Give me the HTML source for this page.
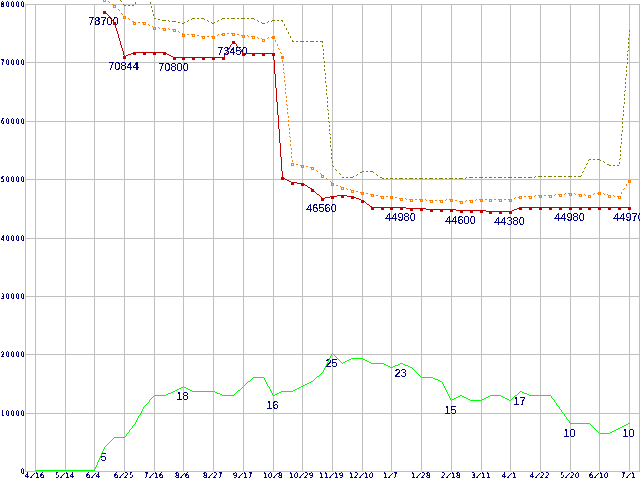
<!DOCTYPE html>
<html><head><meta charset="utf-8"><title>chart</title>
<style>
html,body{margin:0;padding:0;background:#fff;}
body{width:640px;height:480px;overflow:hidden;}
svg{display:block;}
.yl{font-family:"DejaVu Sans Condensed",monospace;font-size:7.5px;font-weight:normal;fill:#000080;}
.xl{font-family:"DejaVu Sans Condensed",sans-serif;font-size:7.5px;font-weight:normal;fill:#000080;}
.sl{font-family:"DejaVu Sans Mono",monospace;font-weight:bold;font-size:7.5px;}
.vl{font-family:"Liberation Sans",sans-serif;font-size:11px;fill:#000080;}
</style></head><body>
<svg width="640" height="480" viewBox="0 0 640 480">
<defs><filter id="th" x="0" y="0" width="100%" height="100%" filterUnits="userSpaceOnUse"><feComponentTransfer><feFuncA type="discrete" tableValues="0 0 1 1 1"/></feComponentTransfer></filter><filter id="ty" x="0" y="0" width="100%" height="100%" filterUnits="userSpaceOnUse"><feComponentTransfer><feFuncA type="discrete" tableValues="0 1 1 1"/></feComponentTransfer></filter><filter id="tx" x="0" y="0" width="100%" height="100%" filterUnits="userSpaceOnUse"><feComponentTransfer><feFuncA type="discrete" tableValues="0 1 1"/></feComponentTransfer></filter></defs>
<rect x="0" y="0" width="640" height="480" fill="#fff"/>
<path d="M25 4.5H640 M25 62.5H640 M25 121.5H640 M25 179.5H640 M25 238.5H640 M25 296.5H640 M25 354.5H640 M25 413.5H640 M25 471.5H640 M35.5 4V472 M65.5 4V472 M94.5 4V472 M124.5 4V472 M154.5 4V472 M183.5 4V472 M213.5 4V472 M243.5 4V472 M273.5 4V472 M302.5 4V472 M332.5 4V472 M362.5 4V472 M391.5 4V472 M421.5 4V472 M451.5 4V472 M481.5 4V472 M510.5 4V472 M540.5 4V472 M570.5 4V472 M599.5 4V472 M629.5 4V472 M25.5 4V472 M639.5 4V472" stroke="#c0c0c0" stroke-width="1" fill="none" shape-rendering="crispEdges"/>
<g filter="url(#ty)">
<text class="yl" transform="scale(0.8,1)" x="1.25 7.5 13.75 20 26.25" y="7">80000</text>
<text class="yl" transform="scale(0.8,1)" x="1.25 7.5 13.75 20 26.25" y="65">70000</text>
<text class="yl" transform="scale(0.8,1)" x="1.25 7.5 13.75 20 26.25" y="124">60000</text>
<text class="yl" transform="scale(0.8,1)" x="1.25 7.5 13.75 20 26.25" y="182">50000</text>
<text class="yl" transform="scale(0.8,1)" x="1.25 7.5 13.75 20 26.25" y="241">40000</text>
<text class="yl" transform="scale(0.8,1)" x="1.25 7.5 13.75 20 26.25" y="299">30000</text>
<text class="yl" transform="scale(0.8,1)" x="1.25 7.5 13.75 20 26.25" y="357">20000</text>
<text class="yl" transform="scale(0.8,1)" x="1.25 7.5 13.75 20 26.25" y="416">10000</text>
<text class="yl" transform="scale(0.8,1)" x="26.25" y="474">0</text>
</g>
<g filter="url(#tx)">
<text class="xl" x="25 30 35 40" y="478 478 478 478">4<tspan class="sl" rotate="15" dy="-1">/</tspan>16</text>
<text class="xl" x="55 60 65 70" y="478 478 478 478">5<tspan class="sl" rotate="15" dy="-1">/</tspan>14</text>
<text class="xl" x="86 91 96" y="478 478 478">6<tspan class="sl" rotate="15" dy="-1">/</tspan>4</text>
<text class="xl" x="114 119 124 129" y="478 478 478 478">6<tspan class="sl" rotate="15" dy="-1">/</tspan>25</text>
<text class="xl" x="144 149 154 159" y="478 478 478 478">7<tspan class="sl" rotate="15" dy="-1">/</tspan>16</text>
<text class="xl" x="175 180 185" y="478 478 478">8<tspan class="sl" rotate="15" dy="-1">/</tspan>6</text>
<text class="xl" x="203 208 213 218" y="478 478 478 478">8<tspan class="sl" rotate="15" dy="-1">/</tspan>27</text>
<text class="xl" x="233 238 243 248" y="478 478 478 478">9<tspan class="sl" rotate="15" dy="-1">/</tspan>17</text>
<text class="xl" x="263 268 273 278" y="478 478 478 478">10<tspan class="sl" rotate="15" dy="-1">/</tspan>8</text>
<text class="xl" x="289 294 299 304 309" y="478 478 478 478 478">10<tspan class="sl" rotate="15" dy="-1">/</tspan>29</text>
<text class="xl" x="319 324 329 334 339" y="478 478 478 478 478">11<tspan class="sl" rotate="15" dy="-1">/</tspan>19</text>
<text class="xl" x="349 354 359 364 369" y="478 478 478 478 478">12<tspan class="sl" rotate="15" dy="-1">/</tspan>10</text>
<text class="xl" x="383 388 393" y="478 478 478">1<tspan class="sl" rotate="15" dy="-1">/</tspan>7</text>
<text class="xl" x="411 416 421 426" y="478 478 478 478">1<tspan class="sl" rotate="15" dy="-1">/</tspan>28</text>
<text class="xl" x="441 446 451 456" y="478 478 478 478">2<tspan class="sl" rotate="15" dy="-1">/</tspan>18</text>
<text class="xl" x="471 476 481 486" y="478 478 478 478">3<tspan class="sl" rotate="15" dy="-1">/</tspan>11</text>
<text class="xl" x="502 507 512" y="478 478 478">4<tspan class="sl" rotate="15" dy="-1">/</tspan>1</text>
<text class="xl" x="530 535 540 545" y="478 478 478 478">4<tspan class="sl" rotate="15" dy="-1">/</tspan>22</text>
<text class="xl" x="560 565 570 575" y="478 478 478 478">5<tspan class="sl" rotate="15" dy="-1">/</tspan>20</text>
<text class="xl" x="589 594 599 604" y="478 478 478 478">6<tspan class="sl" rotate="15" dy="-1">/</tspan>10</text>
<text class="xl" x="621 626 631" y="478 478 478">7<tspan class="sl" rotate="15" dy="-1">/</tspan>1</text>
</g>
<g filter="url(#th)">
<text class="vl" x="103.5" y="25" text-anchor="middle">78700</text>
<text class="vl" x="123.5" y="70" text-anchor="middle">70844</text>
<text class="vl" x="173.5" y="71" text-anchor="middle">70800</text>
<text class="vl" x="232.5" y="55" text-anchor="middle">73450</text>
<text class="vl" x="321.5" y="212" text-anchor="middle">46560</text>
<text class="vl" x="400.5" y="221" text-anchor="middle">44980</text>
<text class="vl" x="460.5" y="224" text-anchor="middle">44600</text>
<text class="vl" x="509.5" y="225" text-anchor="middle">44380</text>
<text class="vl" x="569.5" y="221" text-anchor="middle">44980</text>
<text class="vl" x="628.5" y="221" text-anchor="middle">44970</text>
<text class="vl" x="103.5" y="461" text-anchor="middle">5</text>
<text class="vl" x="182.5" y="400" text-anchor="middle">18</text>
<text class="vl" x="272.5" y="409" text-anchor="middle">16</text>
<text class="vl" x="331.5" y="367" text-anchor="middle">25</text>
<text class="vl" x="400.5" y="377" text-anchor="middle">23</text>
<text class="vl" x="450.5" y="414" text-anchor="middle">15</text>
<text class="vl" x="519.5" y="405" text-anchor="middle">17</text>
<text class="vl" x="569.5" y="437" text-anchor="middle">10</text>
<text class="vl" x="628.5" y="437" text-anchor="middle">10</text>
</g>
<path d="M120 0h1v1h-1zM121 1h1v1h-1zM135 2h1v1h-1zM150 2h1v1h-1zM135 3h1v1h-1zM150 3h1v1h-1zM123 4h1v1h-1zM124 5h2v1h-2zM128 5h2v1h-2zM132 5h2v1h-2zM151 6h1v1h-1zM151 7h1v1h-1zM152 10h1v1h-1zM152 11h1v1h-1zM153 14h1v1h-1zM153 15h1v1h-1zM154 18h2v1h-2zM192 18h3v1h-3zM197 18h2v1h-2zM201 18h3v1h-3zM222 18h3v1h-3zM227 18h2v1h-2zM231 18h4v1h-4zM237 18h2v1h-2zM241 18h4v1h-4zM247 18h2v1h-2zM251 18h3v1h-3zM158 19h2v1h-2zM191 19h1v1h-1zM204 19h1v1h-1zM221 19h1v1h-1zM254 19h1v1h-1zM162 20h4v1h-4zM168 20h1v1h-1zM188 20h1v1h-1zM207 20h1v1h-1zM218 20h1v1h-1zM257 20h1v1h-1zM272 20h3v1h-3zM277 20h2v1h-2zM281 20h2v1h-2zM169 21h1v1h-1zM172 21h4v1h-4zM187 21h1v1h-1zM208 21h1v1h-1zM217 21h1v1h-1zM258 21h1v1h-1zM268 21h1v1h-1zM271 21h1v1h-1zM282 21h1v1h-1zM178 22h2v1h-2zM184 22h1v1h-1zM211 22h1v1h-1zM214 22h1v1h-1zM261 22h1v1h-1zM267 22h1v1h-1zM182 23h2v1h-2zM212 23h2v1h-2zM262 23h3v1h-3zM284 24h1v1h-1zM284 25h1v1h-1zM286 28h1v1h-1zM286 29h1v1h-1zM629 30h1v1h-1zM629 31h1v1h-1zM288 32h1v1h-1zM288 33h1v1h-1zM629 34h1v1h-1zM629 35h1v1h-1zM290 36h1v1h-1zM290 37h1v1h-1zM628 38h1v1h-1zM628 39h1v1h-1zM292 40h1v1h-1zM292 41h2v1h-2zM296 41h2v1h-2zM300 41h4v1h-4zM306 41h2v1h-2zM310 41h4v1h-4zM316 41h2v1h-2zM320 41h3v1h-3zM322 42h1v1h-1zM628 42h1v1h-1zM628 43h1v1h-1zM322 45h1v1h-1zM322 46h1v1h-1zM628 46h1v1h-1zM628 47h1v1h-1zM323 49h1v1h-1zM323 50h1v1h-1zM628 50h1v1h-1zM627 51h1v1h-1zM323 53h1v1h-1zM323 54h1v1h-1zM627 54h1v1h-1zM627 55h1v1h-1zM323 57h1v1h-1zM323 58h1v1h-1zM627 58h1v1h-1zM627 59h1v1h-1zM324 61h1v1h-1zM324 62h1v1h-1zM627 62h1v1h-1zM627 63h1v1h-1zM324 65h1v1h-1zM324 66h1v1h-1zM626 66h1v1h-1zM626 67h1v1h-1zM324 69h1v1h-1zM324 70h1v1h-1zM626 70h1v1h-1zM626 71h1v1h-1zM325 73h1v1h-1zM325 74h1v1h-1zM626 74h1v1h-1zM626 75h1v1h-1zM325 77h1v1h-1zM325 78h1v1h-1zM625 78h1v1h-1zM625 79h1v1h-1zM325 81h1v1h-1zM325 82h1v1h-1zM625 82h1v1h-1zM625 83h1v1h-1zM326 85h1v1h-1zM326 86h1v1h-1zM625 86h1v1h-1zM625 87h1v1h-1zM326 89h1v1h-1zM326 90h1v1h-1zM625 90h1v1h-1zM624 91h1v1h-1zM326 93h1v1h-1zM326 94h1v1h-1zM624 94h1v1h-1zM624 95h1v1h-1zM327 97h1v1h-1zM327 98h1v1h-1zM624 98h1v1h-1zM624 99h1v1h-1zM327 101h1v1h-1zM327 102h1v1h-1zM624 102h1v1h-1zM624 103h1v1h-1zM327 105h1v1h-1zM327 106h1v1h-1zM623 106h1v1h-1zM623 107h1v1h-1zM327 109h1v1h-1zM328 110h1v1h-1zM623 110h1v1h-1zM623 111h1v1h-1zM328 113h1v1h-1zM328 114h1v1h-1zM623 114h1v1h-1zM623 115h1v1h-1zM328 117h1v1h-1zM328 118h1v1h-1zM622 118h1v1h-1zM622 119h1v1h-1zM328 121h1v1h-1zM329 122h1v1h-1zM622 122h1v1h-1zM622 123h1v1h-1zM329 125h1v1h-1zM329 126h1v1h-1zM622 126h1v1h-1zM622 127h1v1h-1zM329 129h1v1h-1zM329 130h1v1h-1zM622 130h1v1h-1zM622 131h1v1h-1zM329 133h1v1h-1zM330 134h1v1h-1zM621 134h1v1h-1zM621 135h1v1h-1zM330 137h1v1h-1zM330 138h1v1h-1zM621 138h1v1h-1zM621 139h1v1h-1zM330 141h1v1h-1zM330 142h1v1h-1zM621 142h1v1h-1zM621 143h1v1h-1zM330 145h1v1h-1zM330 146h1v1h-1zM620 146h1v1h-1zM620 147h1v1h-1zM331 149h1v1h-1zM331 150h1v1h-1zM620 150h1v1h-1zM620 151h1v1h-1zM331 153h1v1h-1zM331 154h1v1h-1zM620 154h1v1h-1zM620 155h1v1h-1zM331 157h1v1h-1zM331 158h1v1h-1zM620 158h1v1h-1zM589 159h2v1h-2zM593 159h2v1h-2zM597 159h3v1h-3zM619 159h1v1h-1zM588 160h1v1h-1zM600 160h1v1h-1zM332 161h1v1h-1zM603 161h1v1h-1zM332 162h1v1h-1zM604 162h1v1h-1zM619 162h1v1h-1zM587 163h1v1h-1zM619 163h1v1h-1zM586 164h1v1h-1zM607 164h2v1h-2zM332 165h1v1h-1zM609 165h2v1h-2zM613 165h2v1h-2zM617 165h2v1h-2zM333 166h1v1h-1zM585 167h1v1h-1zM584 168h1v1h-1zM335 169h1v1h-1zM336 170h1v1h-1zM362 171h2v1h-2zM366 171h2v1h-2zM370 171h3v1h-3zM583 171h1v1h-1zM360 172h2v1h-2zM373 172h1v1h-1zM582 172h1v1h-1zM339 173h1v1h-1zM340 174h1v1h-1zM357 174h1v1h-1zM376 174h1v1h-1zM356 175h1v1h-1zM377 175h1v1h-1zM581 175h1v1h-1zM353 176h1v1h-1zM535 176h1v1h-1zM538 176h4v1h-4zM544 176h2v1h-2zM548 176h4v1h-4zM554 176h2v1h-2zM558 176h4v1h-4zM564 176h2v1h-2zM568 176h4v1h-4zM574 176h2v1h-2zM578 176h3v1h-3zM342 177h2v1h-2zM346 177h2v1h-2zM350 177h3v1h-3zM380 177h2v1h-2zM466 177h1v1h-1zM469 177h4v1h-4zM475 177h2v1h-2zM479 177h4v1h-4zM485 177h2v1h-2zM489 177h3v1h-3zM494 177h2v1h-2zM498 177h4v1h-4zM504 177h2v1h-2zM508 177h4v1h-4zM514 177h2v1h-2zM518 177h4v1h-4zM524 177h2v1h-2zM528 177h4v1h-4zM534 177h1v1h-1zM382 178h2v1h-2zM386 178h2v1h-2zM390 178h3v1h-3zM395 178h2v1h-2zM399 178h4v1h-4zM405 178h2v1h-2zM409 178h4v1h-4zM415 178h2v1h-2zM419 178h4v1h-4zM425 178h2v1h-2zM429 178h4v1h-4zM435 178h2v1h-2zM439 178h4v1h-4zM445 178h2v1h-2zM449 178h4v1h-4zM455 178h2v1h-2zM459 178h4v1h-4zM465 178h1v1h-1z" fill="#808000" shape-rendering="crispEdges"/>
<path d="M105 0h1v1h-1zM108 1h1v1h-1zM109 2h1v1h-1zM112 4h2v1h-2zM114 5h1v1h-1zM115 6h1v1h-1zM118 9h1v1h-1zM119 10h1v1h-1zM121 13h1v1h-1zM122 14h1v1h-1zM124 16h1v1h-1zM125 17h1v1h-1zM128 18h1v1h-1zM129 19h1v1h-1zM132 21h2v1h-2zM134 22h2v1h-2zM138 22h2v1h-2zM142 22h3v1h-3zM145 23h1v1h-1zM148 24h1v1h-1zM149 25h1v1h-1zM152 26h1v1h-1zM153 27h3v1h-3zM158 27h1v1h-1zM159 28h1v1h-1zM162 28h4v1h-4zM168 28h1v1h-1zM169 29h1v1h-1zM172 29h3v1h-3zM175 30h1v1h-1zM178 31h1v1h-1zM179 32h1v1h-1zM182 33h1v1h-1zM222 33h3v1h-3zM227 33h2v1h-2zM231 33h4v1h-4zM183 34h2v1h-2zM187 34h2v1h-2zM191 34h4v1h-4zM218 34h1v1h-1zM221 34h1v1h-1zM237 34h2v1h-2zM197 35h2v1h-2zM217 35h1v1h-1zM241 35h4v1h-4zM247 35h1v1h-1zM201 36h4v1h-4zM207 36h2v1h-2zM211 36h4v1h-4zM248 36h1v1h-1zM251 36h4v1h-4zM272 36h2v1h-2zM257 37h1v1h-1zM268 37h1v1h-1zM271 37h1v1h-1zM273 37h1v1h-1zM258 38h1v1h-1zM261 38h1v1h-1zM267 38h1v1h-1zM262 39h3v1h-3zM275 40h1v1h-1zM275 41h1v1h-1zM277 44h1v1h-1zM277 45h1v1h-1zM278 48h1v1h-1zM279 49h1v1h-1zM280 52h1v1h-1zM281 53h1v1h-1zM282 56h1v1h-1zM282 57h1v1h-1zM282 60h1v1h-1zM282 61h1v1h-1zM283 64h1v1h-1zM283 65h1v1h-1zM283 68h1v1h-1zM283 69h1v1h-1zM283 72h1v1h-1zM284 73h1v1h-1zM284 76h1v1h-1zM284 77h1v1h-1zM284 80h1v1h-1zM284 81h1v1h-1zM285 84h1v1h-1zM285 85h1v1h-1zM285 88h1v1h-1zM285 89h1v1h-1zM285 92h1v1h-1zM285 93h1v1h-1zM286 96h1v1h-1zM286 97h1v1h-1zM286 100h1v1h-1zM286 101h1v1h-1zM286 104h1v1h-1zM287 105h1v1h-1zM287 108h1v1h-1zM287 109h1v1h-1zM287 112h1v1h-1zM287 113h1v1h-1zM288 116h1v1h-1zM288 117h1v1h-1zM288 120h1v1h-1zM288 121h1v1h-1zM288 124h1v1h-1zM288 125h1v1h-1zM289 128h1v1h-1zM289 129h1v1h-1zM289 132h1v1h-1zM289 133h1v1h-1zM289 136h1v1h-1zM290 137h1v1h-1zM290 140h1v1h-1zM290 141h1v1h-1zM290 144h1v1h-1zM290 145h1v1h-1zM291 148h1v1h-1zM291 149h1v1h-1zM291 152h1v1h-1zM291 153h1v1h-1zM291 156h1v1h-1zM291 157h1v1h-1zM292 160h1v1h-1zM292 161h1v1h-1zM292 163h2v1h-2zM296 164h2v1h-2zM300 165h4v1h-4zM306 166h2v1h-2zM310 167h3v1h-3zM313 168h1v1h-1zM316 170h1v1h-1zM317 171h1v1h-1zM320 173h1v1h-1zM321 174h1v1h-1zM322 175h1v1h-1zM323 176h1v1h-1zM326 178h1v1h-1zM327 179h1v1h-1zM629 180h1v1h-1zM330 181h1v1h-1zM628 181h1v1h-1zM331 182h1v1h-1zM332 183h2v1h-2zM626 184h1v1h-1zM336 185h2v1h-2zM626 185h1v1h-1zM340 186h1v1h-1zM341 187h3v1h-3zM346 188h1v1h-1zM624 188h1v1h-1zM347 189h1v1h-1zM350 189h1v1h-1zM623 189h1v1h-1zM351 190h3v1h-3zM356 191h2v1h-2zM360 192h4v1h-4zM598 192h3v1h-3zM621 192h1v1h-1zM366 193h2v1h-2zM565 193h1v1h-1zM568 193h4v1h-4zM574 193h1v1h-1zM594 193h1v1h-1zM597 193h1v1h-1zM603 193h1v1h-1zM621 193h1v1h-1zM370 194h4v1h-4zM555 194h1v1h-1zM558 194h4v1h-4zM564 194h1v1h-1zM575 194h1v1h-1zM578 194h4v1h-4zM584 194h1v1h-1zM593 194h1v1h-1zM604 194h1v1h-1zM607 194h1v1h-1zM376 195h2v1h-2zM535 195h1v1h-1zM538 195h4v1h-4zM544 195h2v1h-2zM548 195h4v1h-4zM554 195h1v1h-1zM585 195h1v1h-1zM588 195h3v1h-3zM608 195h3v1h-3zM613 195h1v1h-1zM380 196h4v1h-4zM386 196h2v1h-2zM390 196h3v1h-3zM519 196h3v1h-3zM524 196h2v1h-2zM528 196h4v1h-4zM534 196h1v1h-1zM614 196h1v1h-1zM617 196h3v1h-3zM395 197h2v1h-2zM515 197h1v1h-1zM518 197h1v1h-1zM399 198h4v1h-4zM405 198h1v1h-1zM514 198h1v1h-1zM406 199h1v1h-1zM409 199h4v1h-4zM415 199h2v1h-2zM419 199h4v1h-4zM425 199h1v1h-1zM446 199h1v1h-1zM449 199h4v1h-4zM476 199h1v1h-1zM479 199h4v1h-4zM485 199h2v1h-2zM489 199h3v1h-3zM494 199h2v1h-2zM498 199h4v1h-4zM504 199h2v1h-2zM508 199h4v1h-4zM426 200h1v1h-1zM429 200h4v1h-4zM435 200h2v1h-2zM439 200h4v1h-4zM445 200h1v1h-1zM455 200h2v1h-2zM466 200h1v1h-1zM469 200h4v1h-4zM475 200h1v1h-1zM459 201h4v1h-4zM465 201h1v1h-1z" fill="#ff8000" shape-rendering="crispEdges"/>
<path d="M332 353h1v1h-1zM331 354h1v1h-1zM333 354h1v1h-1zM331 355h1v1h-1zM334 355h1v1h-1zM330 356h1v1h-1zM335 356h1v1h-1zM330 357h1v1h-1zM336 357h1v1h-1zM329 358h1v1h-1zM337 358h1v1h-1zM351 358h12v1h-12zM329 359h1v1h-1zM338 359h1v1h-1zM349 359h2v1h-2zM363 359h2v1h-2zM328 360h1v1h-1zM339 360h1v1h-1zM347 360h2v1h-2zM365 360h2v1h-2zM328 361h1v1h-1zM340 361h1v1h-1zM345 361h2v1h-2zM367 361h2v1h-2zM327 362h1v1h-1zM341 362h1v1h-1zM343 362h2v1h-2zM369 362h2v1h-2zM327 363h1v1h-1zM342 363h1v1h-1zM371 363h13v1h-13zM400 363h3v1h-3zM326 364h1v1h-1zM384 364h2v1h-2zM398 364h2v1h-2zM403 364h2v1h-2zM326 365h1v1h-1zM386 365h2v1h-2zM395 365h3v1h-3zM405 365h3v1h-3zM325 366h1v1h-1zM388 366h2v1h-2zM393 366h2v1h-2zM408 366h2v1h-2zM325 367h1v1h-1zM390 367h3v1h-3zM410 367h2v1h-2zM324 368h1v1h-1zM412 368h1v1h-1zM324 369h1v1h-1zM413 369h1v1h-1zM323 370h1v1h-1zM414 370h1v1h-1zM323 371h1v1h-1zM415 371h1v1h-1zM322 372h1v1h-1zM416 372h1v1h-1zM321 373h1v1h-1zM417 373h1v1h-1zM320 374h1v1h-1zM418 374h1v1h-1zM319 375h1v1h-1zM419 375h1v1h-1zM317 376h2v1h-2zM420 376h1v1h-1zM253 377h11v1h-11zM316 377h1v1h-1zM421 377h12v1h-12zM252 378h1v1h-1zM264 378h1v1h-1zM315 378h1v1h-1zM433 378h2v1h-2zM251 379h1v1h-1zM264 379h1v1h-1zM314 379h1v1h-1zM435 379h3v1h-3zM250 380h1v1h-1zM265 380h1v1h-1zM313 380h1v1h-1zM438 380h2v1h-2zM248 381h2v1h-2zM265 381h1v1h-1zM311 381h2v1h-2zM440 381h2v1h-2zM247 382h1v1h-1zM266 382h1v1h-1zM309 382h2v1h-2zM442 382h1v1h-1zM246 383h1v1h-1zM266 383h1v1h-1zM307 383h2v1h-2zM442 383h1v1h-1zM245 384h1v1h-1zM267 384h1v1h-1zM305 384h2v1h-2zM443 384h1v1h-1zM244 385h1v1h-1zM267 385h1v1h-1zM303 385h2v1h-2zM443 385h1v1h-1zM183 386h1v1h-1zM243 386h1v1h-1zM268 386h1v1h-1zM301 386h2v1h-2zM444 386h1v1h-1zM181 387h2v1h-2zM184 387h2v1h-2zM242 387h1v1h-1zM269 387h1v1h-1zM299 387h2v1h-2zM444 387h1v1h-1zM179 388h2v1h-2zM186 388h2v1h-2zM241 388h1v1h-1zM269 388h1v1h-1zM297 388h2v1h-2zM445 388h1v1h-1zM177 389h2v1h-2zM188 389h2v1h-2zM240 389h1v1h-1zM270 389h1v1h-1zM295 389h2v1h-2zM445 389h1v1h-1zM175 390h2v1h-2zM190 390h2v1h-2zM238 390h2v1h-2zM270 390h1v1h-1zM293 390h2v1h-2zM446 390h1v1h-1zM173 391h2v1h-2zM192 391h23v1h-23zM237 391h1v1h-1zM271 391h1v1h-1zM281 391h12v1h-12zM446 391h1v1h-1zM520 391h2v1h-2zM171 392h2v1h-2zM215 392h2v1h-2zM236 392h1v1h-1zM271 392h1v1h-1zM279 392h2v1h-2zM447 392h1v1h-1zM519 392h1v1h-1zM522 392h2v1h-2zM168 393h3v1h-3zM217 393h3v1h-3zM235 393h1v1h-1zM272 393h1v1h-1zM277 393h2v1h-2zM447 393h1v1h-1zM518 393h1v1h-1zM524 393h3v1h-3zM166 394h2v1h-2zM220 394h2v1h-2zM234 394h1v1h-1zM272 394h1v1h-1zM275 394h2v1h-2zM448 394h1v1h-1zM517 394h1v1h-1zM527 394h2v1h-2zM154 395h12v1h-12zM222 395h12v1h-12zM273 395h2v1h-2zM448 395h1v1h-1zM460 395h2v1h-2zM490 395h11v1h-11zM515 395h2v1h-2zM529 395h22v1h-22zM153 396h1v1h-1zM449 396h1v1h-1zM458 396h2v1h-2zM462 396h2v1h-2zM488 396h2v1h-2zM501 396h2v1h-2zM514 396h1v1h-1zM551 396h1v1h-1zM152 397h1v1h-1zM449 397h1v1h-1zM456 397h2v1h-2zM464 397h2v1h-2zM486 397h2v1h-2zM503 397h2v1h-2zM513 397h1v1h-1zM551 397h1v1h-1zM151 398h1v1h-1zM450 398h1v1h-1zM454 398h2v1h-2zM466 398h2v1h-2zM484 398h2v1h-2zM505 398h2v1h-2zM512 398h1v1h-1zM552 398h1v1h-1zM150 399h1v1h-1zM450 399h1v1h-1zM452 399h2v1h-2zM468 399h2v1h-2zM482 399h2v1h-2zM507 399h2v1h-2zM511 399h1v1h-1zM553 399h1v1h-1zM149 400h1v1h-1zM451 400h1v1h-1zM470 400h12v1h-12zM509 400h2v1h-2zM554 400h1v1h-1zM149 401h1v1h-1zM554 401h1v1h-1zM148 402h1v1h-1zM555 402h1v1h-1zM147 403h1v1h-1zM556 403h1v1h-1zM146 404h1v1h-1zM556 404h1v1h-1zM145 405h1v1h-1zM557 405h1v1h-1zM144 406h1v1h-1zM558 406h1v1h-1zM143 407h1v1h-1zM559 407h1v1h-1zM143 408h1v1h-1zM559 408h1v1h-1zM142 409h1v1h-1zM560 409h1v1h-1zM142 410h1v1h-1zM561 410h1v1h-1zM141 411h1v1h-1zM561 411h1v1h-1zM141 412h1v1h-1zM562 412h1v1h-1zM140 413h1v1h-1zM563 413h1v1h-1zM140 414h1v1h-1zM564 414h1v1h-1zM139 415h1v1h-1zM564 415h1v1h-1zM138 416h1v1h-1zM565 416h1v1h-1zM138 417h1v1h-1zM566 417h1v1h-1zM137 418h1v1h-1zM566 418h1v1h-1zM137 419h1v1h-1zM567 419h1v1h-1zM136 420h1v1h-1zM568 420h1v1h-1zM136 421h1v1h-1zM569 421h1v1h-1zM135 422h1v1h-1zM569 422h1v1h-1zM135 423h1v1h-1zM570 423h20v1h-20zM628 423h2v1h-2zM134 424h1v1h-1zM590 424h1v1h-1zM626 424h2v1h-2zM133 425h1v1h-1zM591 425h1v1h-1zM624 425h2v1h-2zM132 426h1v1h-1zM592 426h1v1h-1zM622 426h2v1h-2zM132 427h1v1h-1zM593 427h1v1h-1zM620 427h2v1h-2zM131 428h1v1h-1zM594 428h1v1h-1zM618 428h2v1h-2zM130 429h1v1h-1zM595 429h1v1h-1zM616 429h2v1h-2zM129 430h1v1h-1zM596 430h1v1h-1zM614 430h2v1h-2zM129 431h1v1h-1zM597 431h1v1h-1zM612 431h2v1h-2zM128 432h1v1h-1zM598 432h1v1h-1zM610 432h2v1h-2zM127 433h1v1h-1zM599 433h11v1h-11zM126 434h1v1h-1zM126 435h1v1h-1zM125 436h1v1h-1zM114 437h11v1h-11zM113 438h1v1h-1zM112 439h1v1h-1zM111 440h1v1h-1zM110 441h1v1h-1zM109 442h1v1h-1zM108 443h1v1h-1zM107 444h1v1h-1zM106 445h1v1h-1zM105 446h1v1h-1zM104 447h1v1h-1zM104 448h1v1h-1zM103 449h1v1h-1zM103 450h1v1h-1zM102 451h1v1h-1zM102 452h1v1h-1zM101 453h1v1h-1zM101 454h1v1h-1zM101 455h1v1h-1zM100 456h1v1h-1zM100 457h1v1h-1zM99 458h1v1h-1zM99 459h1v1h-1zM98 460h1v1h-1zM98 461h1v1h-1zM97 462h1v1h-1zM97 463h1v1h-1zM97 464h1v1h-1zM96 465h1v1h-1zM96 466h1v1h-1zM95 467h1v1h-1zM95 468h1v1h-1zM94 469h1v1h-1zM35 470h60v1h-60z" fill="#00ff00" shape-rendering="crispEdges"/>
<path d="M103.5 -0.5h2v2h-2zM113.5 5.5h2v2h-2zM123.5 16.5h2v2h-2zM133.5 22.5h2v2h-2zM143.5 22.5h2v2h-2zM153.5 27.5h2v2h-2zM163.5 28.5h2v2h-2zM173.5 29.5h2v2h-2zM182.5 34.5h2v2h-2zM192.5 34.5h2v2h-2zM202.5 36.5h2v2h-2zM212.5 36.5h2v2h-2zM222.5 33.5h2v2h-2zM232.5 33.5h2v2h-2zM242.5 35.5h2v2h-2zM252.5 36.5h2v2h-2zM262.5 39.5h2v2h-2zM272.5 36.5h2v2h-2zM281.5 56.5h2v2h-2zM291.5 163.5h2v2h-2zM301.5 165.5h2v2h-2zM311.5 167.5h2v2h-2zM321.5 175.5h2v2h-2zM331.5 183.5h2v2h-2zM341.5 187.5h2v2h-2zM351.5 190.5h2v2h-2zM361.5 192.5h2v2h-2zM371.5 194.5h2v2h-2zM381.5 196.5h2v2h-2zM390.5 196.5h2v2h-2zM400.5 198.5h2v2h-2zM410.5 199.5h2v2h-2zM420.5 199.5h2v2h-2zM430.5 200.5h2v2h-2zM440.5 200.5h2v2h-2zM450.5 199.5h2v2h-2zM460.5 201.5h2v2h-2zM470.5 200.5h2v2h-2zM480.5 199.5h2v2h-2zM489.5 199.5h2v2h-2zM499.5 199.5h2v2h-2zM509.5 199.5h2v2h-2zM519.5 196.5h2v2h-2zM529.5 196.5h2v2h-2zM539.5 195.5h2v2h-2zM549.5 195.5h2v2h-2zM559.5 194.5h2v2h-2zM569.5 193.5h2v2h-2zM579.5 194.5h2v2h-2zM588.5 195.5h2v2h-2zM598.5 192.5h2v2h-2zM608.5 195.5h2v2h-2zM618.5 196.5h2v2h-2zM628.5 180.5h2v2h-2z" fill="none" stroke="#ff8000" stroke-width="1" shape-rendering="crispEdges"/>
<path d="M104 11h1v1h-1zM105 12h1v1h-1zM106 13h1v1h-1zM107 14h1v1h-1zM108 15h1v1h-1zM109 16h1v1h-1zM109 17h1v1h-1zM110 18h1v1h-1zM111 19h1v1h-1zM112 20h1v1h-1zM113 21h1v1h-1zM114 22h1v1h-1zM114 23h1v1h-1zM115 24h1v1h-1zM115 25h1v1h-1zM115 26h1v1h-1zM115 27h1v1h-1zM116 28h1v1h-1zM116 29h1v1h-1zM116 30h1v1h-1zM117 31h1v1h-1zM117 32h1v1h-1zM117 33h1v1h-1zM118 34h1v1h-1zM118 35h1v1h-1zM118 36h1v1h-1zM118 37h1v1h-1zM119 38h1v1h-1zM119 39h1v1h-1zM119 40h1v1h-1zM120 41h1v1h-1zM233 41h1v1h-1zM120 42h1v1h-1zM232 42h1v1h-1zM234 42h1v1h-1zM120 43h1v1h-1zM232 43h1v1h-1zM235 43h1v1h-1zM120 44h1v1h-1zM231 44h1v1h-1zM236 44h1v1h-1zM121 45h1v1h-1zM230 45h1v1h-1zM236 45h1v1h-1zM121 46h1v1h-1zM230 46h1v1h-1zM237 46h1v1h-1zM121 47h1v1h-1zM229 47h1v1h-1zM238 47h1v1h-1zM122 48h1v1h-1zM229 48h1v1h-1zM239 48h1v1h-1zM122 49h1v1h-1zM228 49h1v1h-1zM240 49h1v1h-1zM122 50h1v1h-1zM227 50h1v1h-1zM241 50h1v1h-1zM123 51h1v1h-1zM227 51h1v1h-1zM241 51h1v1h-1zM123 52h1v1h-1zM133 52h32v1h-32zM226 52h1v1h-1zM242 52h1v1h-1zM123 53h1v1h-1zM131 53h2v1h-2zM165 53h2v1h-2zM225 53h1v1h-1zM243 53h31v1h-31zM123 54h1v1h-1zM128 54h3v1h-3zM167 54h2v1h-2zM225 54h1v1h-1zM273 54h1v1h-1zM124 55h1v1h-1zM126 55h2v1h-2zM169 55h2v1h-2zM224 55h1v1h-1zM273 55h1v1h-1zM124 56h2v1h-2zM171 56h2v1h-2zM224 56h1v1h-1zM273 56h1v1h-1zM173 57h51v1h-51zM273 57h1v1h-1zM273 58h1v1h-1zM273 59h1v1h-1zM274 60h1v1h-1zM274 61h1v1h-1zM274 62h1v1h-1zM274 63h1v1h-1zM274 64h1v1h-1zM274 65h1v1h-1zM274 66h1v1h-1zM274 67h1v1h-1zM274 68h1v1h-1zM274 69h1v1h-1zM274 70h1v1h-1zM274 71h1v1h-1zM274 72h1v1h-1zM274 73h1v1h-1zM275 74h1v1h-1zM275 75h1v1h-1zM275 76h1v1h-1zM275 77h1v1h-1zM275 78h1v1h-1zM275 79h1v1h-1zM275 80h1v1h-1zM275 81h1v1h-1zM275 82h1v1h-1zM275 83h1v1h-1zM275 84h1v1h-1zM275 85h1v1h-1zM275 86h1v1h-1zM275 87h1v1h-1zM276 88h1v1h-1zM276 89h1v1h-1zM276 90h1v1h-1zM276 91h1v1h-1zM276 92h1v1h-1zM276 93h1v1h-1zM276 94h1v1h-1zM276 95h1v1h-1zM276 96h1v1h-1zM276 97h1v1h-1zM276 98h1v1h-1zM276 99h1v1h-1zM276 100h1v1h-1zM276 101h1v1h-1zM277 102h1v1h-1zM277 103h1v1h-1zM277 104h1v1h-1zM277 105h1v1h-1zM277 106h1v1h-1zM277 107h1v1h-1zM277 108h1v1h-1zM277 109h1v1h-1zM277 110h1v1h-1zM277 111h1v1h-1zM277 112h1v1h-1zM277 113h1v1h-1zM277 114h1v1h-1zM278 115h1v1h-1zM278 116h1v1h-1zM278 117h1v1h-1zM278 118h1v1h-1zM278 119h1v1h-1zM278 120h1v1h-1zM278 121h1v1h-1zM278 122h1v1h-1zM278 123h1v1h-1zM278 124h1v1h-1zM278 125h1v1h-1zM278 126h1v1h-1zM278 127h1v1h-1zM278 128h1v1h-1zM279 129h1v1h-1zM279 130h1v1h-1zM279 131h1v1h-1zM279 132h1v1h-1zM279 133h1v1h-1zM279 134h1v1h-1zM279 135h1v1h-1zM279 136h1v1h-1zM279 137h1v1h-1zM279 138h1v1h-1zM279 139h1v1h-1zM279 140h1v1h-1zM279 141h1v1h-1zM279 142h1v1h-1zM280 143h1v1h-1zM280 144h1v1h-1zM280 145h1v1h-1zM280 146h1v1h-1zM280 147h1v1h-1zM280 148h1v1h-1zM280 149h1v1h-1zM280 150h1v1h-1zM280 151h1v1h-1zM280 152h1v1h-1zM280 153h1v1h-1zM280 154h1v1h-1zM280 155h1v1h-1zM280 156h1v1h-1zM281 157h1v1h-1zM281 158h1v1h-1zM281 159h1v1h-1zM281 160h1v1h-1zM281 161h1v1h-1zM281 162h1v1h-1zM281 163h1v1h-1zM281 164h1v1h-1zM281 165h1v1h-1zM281 166h1v1h-1zM281 167h1v1h-1zM281 168h1v1h-1zM281 169h1v1h-1zM281 170h1v1h-1zM282 171h1v1h-1zM282 172h1v1h-1zM282 173h1v1h-1zM282 174h1v1h-1zM282 175h1v1h-1zM282 176h1v1h-1zM282 177h1v1h-1zM283 178h2v1h-2zM285 179h2v1h-2zM287 180h2v1h-2zM289 181h2v1h-2zM291 182h6v1h-6zM297 183h6v1h-6zM303 184h2v1h-2zM305 185h2v1h-2zM307 186h1v1h-1zM308 187h2v1h-2zM310 188h2v1h-2zM312 189h1v1h-1zM313 190h1v1h-1zM314 191h1v1h-1zM315 192h1v1h-1zM316 193h1v1h-1zM317 194h2v1h-2zM319 195h1v1h-1zM337 195h10v1h-10zM320 196h1v1h-1zM330 196h7v1h-7zM347 196h7v1h-7zM321 197h1v1h-1zM325 197h5v1h-5zM354 197h2v1h-2zM322 198h3v1h-3zM356 198h3v1h-3zM359 199h2v1h-2zM361 200h2v1h-2zM363 201h2v1h-2zM365 202h1v1h-1zM366 203h1v1h-1zM367 204h2v1h-2zM369 205h1v1h-1zM370 206h2v1h-2zM372 207h34v1h-34zM519 207h111v1h-111zM406 208h20v1h-20zM517 208h2v1h-2zM426 209h30v1h-30zM514 209h3v1h-3zM456 210h30v1h-30zM512 210h2v1h-2zM486 211h26v1h-26z" fill="#c00000" shape-rendering="crispEdges"/>
<path d="M103 11h3v3h-3zM113 22h3v3h-3zM123 56h3v3h-3zM133 52h3v3h-3zM143 52h3v3h-3zM153 52h3v3h-3zM163 52h3v3h-3zM173 57h3v3h-3zM182 57h3v3h-3zM192 57h3v3h-3zM202 57h3v3h-3zM212 57h3v3h-3zM222 57h3v3h-3zM232 41h3v3h-3zM242 53h3v3h-3zM252 53h3v3h-3zM262 53h3v3h-3zM272 53h3v3h-3zM281 177h3v3h-3zM291 182h3v3h-3zM301 183h3v3h-3zM311 189h3v3h-3zM321 198h3v3h-3zM331 196h3v3h-3zM341 195h3v3h-3zM351 196h3v3h-3zM361 200h3v3h-3zM371 207h3v3h-3zM381 207h3v3h-3zM390 207h3v3h-3zM400 207h3v3h-3zM410 208h3v3h-3zM420 208h3v3h-3zM430 209h3v3h-3zM440 209h3v3h-3zM450 209h3v3h-3zM460 210h3v3h-3zM470 210h3v3h-3zM480 210h3v3h-3zM489 211h3v3h-3zM499 211h3v3h-3zM509 211h3v3h-3zM519 207h3v3h-3zM529 207h3v3h-3zM539 207h3v3h-3zM549 207h3v3h-3zM559 207h3v3h-3zM569 207h3v3h-3zM579 207h3v3h-3zM588 207h3v3h-3zM598 207h3v3h-3zM608 207h3v3h-3zM618 207h3v3h-3zM628 207h3v3h-3z" fill="#c00000" shape-rendering="crispEdges"/>
</svg>
</body></html>
